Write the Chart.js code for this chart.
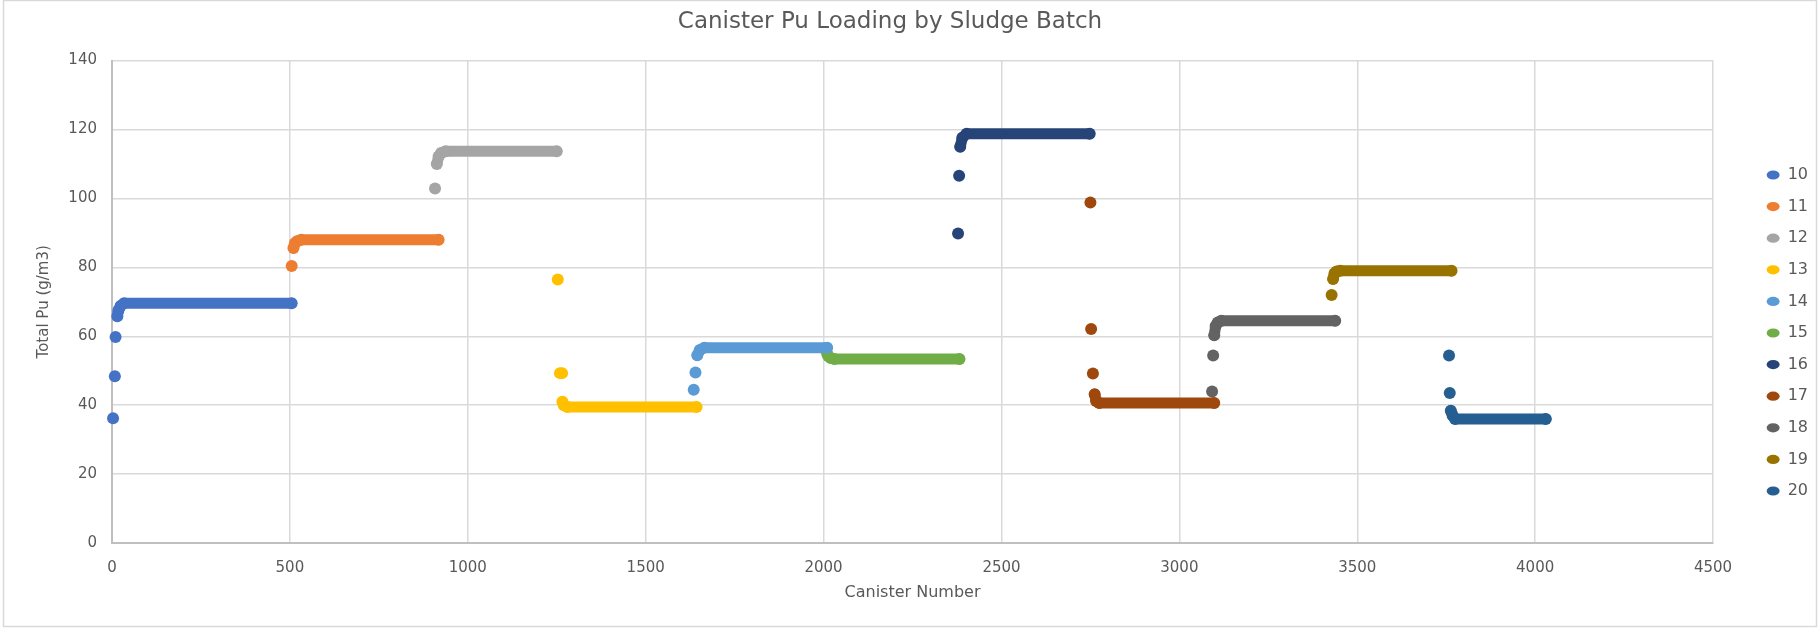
<!DOCTYPE html>
<html>
<head>
<meta charset="utf-8">
<title>Canister Pu Loading by Sludge Batch</title>
<script src="https://cdn.jsdelivr.net/npm/chart.js@4.4.1/dist/chart.umd.min.js"></script>
<style>
    html, body { margin: 0; padding: 0; background: #ffffff; }
    canvas { display: block; }
</style>
</head>
<body>
<canvas id="puChart" width="1819" height="628"></canvas>
<script>
// sludge batch names and their Excel palette colours
const batchLabels = ["10", "11", "12", "13", "14", "15", "16", "17", "18", "19", "20"];
const batchColors = ["#4472C4", "#ED7D31", "#A5A5A5", "#FFC000", "#5B9BD5", "#70AD47",
                     "#264478", "#9E480E", "#636363", "#997300", "#255E91"];

// canister number / total Pu (g/m3) per batch; the last point closes the flat run
const sb10Canister = [3, 8, 10, 15, 18, 24, 34, 505];
const sb10Pu       = [36.2, 48.4, 59.8, 65.8, 67.5, 68.8, 69.6, 69.6];
const sb11Canister = [505, 510, 514, 520, 532, 918];
const sb11Pu       = [80.4, 85.6, 87.0, 87.6, 88.0, 88.0];
const sb12Canister = [908, 913, 918, 925, 938, 1250];
const sb12Pu       = [102.9, 110.0, 112.2, 113.2, 113.7, 113.7];
const sb13Canister = [1253, 1259, 1265, 1266, 1270, 1280, 1643];
const sb13Pu       = [76.5, 49.3, 49.3, 41.0, 40.0, 39.5, 39.5];
const sb14Canister = [1635, 1640, 1645, 1652, 1665, 2010];
const sb14Pu       = [44.5, 49.5, 54.5, 56.0, 56.7, 56.7];
const sb15Canister = [2010, 2013, 2020, 2030, 2382];
const sb15Pu       = [55.0, 54.3, 53.7, 53.4, 53.4];
const sb16Canister = [2378, 2381, 2384, 2390, 2402, 2748];
const sb16Pu       = [89.8, 106.6, 115.0, 117.6, 118.8, 118.8];
const sb17Canister = [2750, 2752, 2757, 2762, 2766, 2775, 3098];
const sb17Pu       = [98.8, 62.1, 49.2, 43.2, 41.2, 40.6, 40.6];
const sb18Canister = [3092, 3095, 3098, 3102, 3108, 3118, 3438];
const sb18Pu       = [44.0, 54.4, 60.3, 63.0, 64.0, 64.5, 64.5];
const sb19Canister = [3428, 3432, 3436, 3442, 3452, 3765];
const sb19Pu       = [72.0, 76.6, 78.2, 78.8, 79.0, 79.0];
const sb20Canister = [3758, 3760, 3763, 3768, 3775, 4030];
const sb20Pu       = [54.4, 43.5, 38.4, 37.0, 36.0, 36.0];

// index from which the dots of a batch run together into a solid band
const runStart = [3, 1, 1, 3, 2, 0, 2, 3, 2, 1, 2];

const batchCanisters = [sb10Canister, sb11Canister, sb12Canister, sb13Canister, sb14Canister, sb15Canister,
                        sb16Canister, sb17Canister, sb18Canister, sb19Canister, sb20Canister];
const batchPu = [sb10Pu, sb11Pu, sb12Pu, sb13Pu, sb14Pu, sb15Pu,
                 sb16Pu, sb17Pu, sb18Pu, sb19Pu, sb20Pu];

const xTicks = {min: 0, max: 4500, step: 500};
const yTicks = {min: 0, max: 140, step: 20};

const FONT = "'DejaVu Sans', 'Open Sans', sans-serif";
const TEXT_COLOR = "#595959";
const GRID_COLOR = "#d9d9d9";

// Excel draws the legend further right than Chart.js would put it
const legendShift = {x: 38, y: 19};

const chartFrame = {
    id: "chartFrame",
    beforeDraw(chart) {
        const ctx = chart.ctx;
        ctx.save();
        ctx.fillStyle = "#ffffff";
        ctx.fillRect(0, 0, chart.width, chart.height);
        ctx.strokeStyle = GRID_COLOR;
        ctx.lineWidth = 1.5;
        ctx.strokeRect(3.5, 0.5, chart.width - 6, chart.height - 2);
        ctx.restore();
    }
};

const legendPlacer = {
    id: "legendPlacer",
    afterLayout(chart) {
        const lg = chart.legend;
        lg.left += legendShift.x;
        lg.right += legendShift.x;
        lg.top += legendShift.y;
        lg.bottom += legendShift.y;
    }
};

function buildDatasets() {
    return batchLabels.map((label, i) => {
        const color = batchColors[i];
        const start = runStart[i];
        return {
            label: label,
            data: batchCanisters[i].map((x, j) => ({x: x, y: batchPu[i][j]})),
            backgroundColor: color,
            borderColor: color,
            pointRadius: 6,
            pointHoverRadius: 6,
            pointBorderWidth: 0,
            showLine: true,
            borderWidth: 11,
            borderCapStyle: "round",
            borderJoinStyle: "round",
            clip: false,
            segment: {
                borderColor: ctx => ctx.p0DataIndex >= start ? color : "transparent"
            }
        };
    });
}

const ctx = document.getElementById("puChart").getContext("2d");

new Chart(ctx, {
    type: "scatter",
    data: {datasets: buildDatasets()},
    plugins: [chartFrame, legendPlacer],
    options: {
        responsive: false,
        animation: false,
        events: [],
        layout: {padding: {left: 0, right: 39, top: 0, bottom: 0}},
        plugins: {
            title: {
                display: true,
                text: "Canister Pu Loading by Sludge Batch",
                color: TEXT_COLOR,
                font: {family: FONT, size: 23, weight: "normal"},
                padding: {top: 8, bottom: 25}
            },
            legend: {
                position: "right",
                labels: {
                    usePointStyle: true,
                    pointStyle: "circle",
                    pointStyleWidth: 13,
                    boxHeight: 6.5,
                    padding: 15.6,
                    color: TEXT_COLOR,
                    font: {family: FONT, size: 16}
                }
            },
            tooltip: {enabled: false}
        },
        scales: {
            x: {
                type: "linear",
                min: xTicks.min,
                max: xTicks.max,
                afterFit: scale => { scale.height = 85; },
                ticks: {stepSize: xTicks.step, color: TEXT_COLOR, padding: 16,
                        format: {useGrouping: false},
                        font: {family: FONT, size: 15}, maxRotation: 0},
                grid: {color: GRID_COLOR, lineWidth: 1.5, drawTicks: false},
                border: {color: "#bfbfbf", width: 2},
                title: {display: true, text: "Canister Number", color: TEXT_COLOR,
                        font: {family: FONT, size: 16}, padding: {top: 0, bottom: 26}}
            },
            y: {
                min: yTicks.min,
                max: yTicks.max,
                afterFit: scale => { scale.width = 112; },
                ticks: {stepSize: yTicks.step, color: TEXT_COLOR, padding: 15,
                        font: {family: FONT, size: 15}},
                grid: {color: GRID_COLOR, lineWidth: 1.5, drawTicks: false},
                border: {color: "#bfbfbf", width: 2},
                title: {display: true, text: "Total Pu (g/m3)", color: TEXT_COLOR,
                        font: {family: FONT, size: 15}, padding: {top: 35, bottom: 0}}
            }
        }
    }
});
</script>
</body>
</html>
